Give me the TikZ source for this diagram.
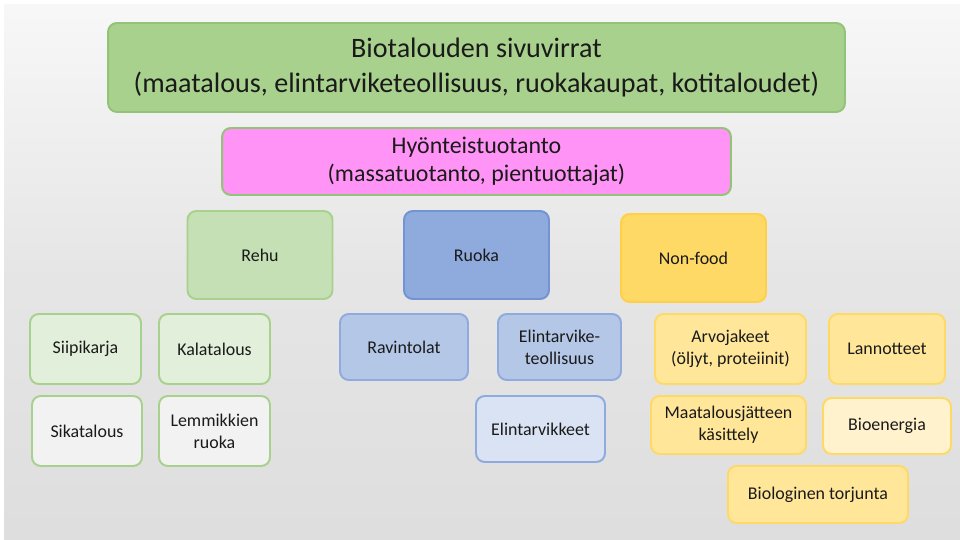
\documentclass[tikz,border=0pt]{standalone}
\usepackage{fontspec}
\setmainfont{Carlito}
\usepackage{tikz}
\usetikzlibrary{positioning,calc}

\definecolor{topfill}{HTML}{A9D18E}
\definecolor{topdraw}{HTML}{93C377}
\definecolor{pinkfill}{HTML}{FF94F6}
\definecolor{greenmid}{HTML}{C5E0B4}
\definecolor{greenlight}{HTML}{E2EFDA}
\definecolor{greenline}{HTML}{A9D18E}
\definecolor{greyfill}{HTML}{F2F2F2}
\definecolor{bluemid}{HTML}{8FAADC}
\definecolor{blueline}{HTML}{7393D3}
\definecolor{bluelight}{HTML}{B4C7E7}
\definecolor{bluepale}{HTML}{DAE3F3}
\definecolor{goldmid}{HTML}{FFD966}
\definecolor{goldline}{HTML}{FFD045}
\definecolor{goldlight}{HTML}{FFE699}
\definecolor{goldpale}{HTML}{FFF2CC}
\definecolor{ink}{HTML}{1A1A1A}

\begin{document}
\begin{tikzpicture}[x=0.02cm, y=-0.02cm,
  font=\fontsize{10.2}{12.5}\selectfont, text=ink,
  box/.style={rounded corners=5pt, line width=1.1pt, align=center,
              inner sep=2pt},
  head/.style={box, font=\fontsize{16}{19.8}\selectfont},
  sub/.style={box, font=\fontsize{13.6}{16}\selectfont},
  branch/.style={box, minimum width=2.9cm, minimum height=1.76cm},
  leaf/.style={box, minimum height=1.4cm},
  feed/.style={leaf, draw=greenline, minimum width=2.22cm},
  food/.style={leaf, draw=bluemid, minimum height=1.32cm},
  other/.style={leaf, draw=goldmid},
]

% ============ BACKGROUND: slide with grey gradient ============
\useasboundingbox (0,0) rectangle (960,540);
\fill[white] (0,0) rectangle (960,540);
\shade[top color=black!3, bottom color=black!13, middle color=black!10]
  (4,5) rectangle (960,540);

% ============ TOP: side streams and insect production ============
\node[head, fill=topfill, draw=topdraw, minimum width=14.74cm,
      minimum height=1.78cm] (streams) at (476.5,67.5)
  {Biotalouden sivuvirrat\\(maatalous, elintarviketeollisuus, ruokakaupat, kotitaloudet)};
\node[sub, fill=pinkfill, draw=topdraw, minimum width=10.18cm,
      minimum height=1.34cm] (insects) at (476.5,161.5)
  {Hyönteistuotanto\\(massatuotanto, pientuottajat)};

% ============ BRANCHES ============
\node[branch, fill=greenmid, draw=greenline] (rehu) at (260,255) {Rehu};
\node[branch, fill=bluemid, draw=blueline] (ruoka) at (476.5,255) {Ruoka};
\node[branch, fill=goldmid, draw=goldline] (nonfood) at (693.5,258) {Non-food};

% ============ FEED ============
\node[feed, fill=greenlight] (siipi) at (85.5,349) {Siipikarja};
\node[feed, fill=greenlight] (kala) at (214.5,349) {Kalatalous};
\node[feed, fill=greyfill, minimum width=2.2cm] (sika) at (87,431) {Sikatalous};
\node[feed, fill=greyfill] (lemmikki) at (214.5,431) {Lemmikkien\\ruoka};

% ============ FOOD ============
\node[food, fill=bluelight, minimum width=2.56cm] (ravintola) at (404,347) {Ravintolat};
\node[food, fill=bluelight, minimum width=2.46cm] (teoll) at (559.5,347)
  {Elintarvike-\\teollisuus};
\node[food, fill=bluepale, minimum width=2.58cm] (tarvike) at (540.5,429)
  {Elintarvikkeet};

% ============ NON-FOOD ============
\node[other, fill=goldlight, minimum width=3.02cm] (arvo) at (730.5,349)
  {Arvojakeet\\(öljyt, proteiinit)};
\node[other, fill=goldlight, minimum width=2.32cm] (lannote) at (887,349) {Lannotteet};
\node[other, fill=goldlight, minimum width=3.1cm, minimum height=1.16cm] (jate)
  at (728.5,425) {Maatalousjätteen\\käsittely};
\node[other, fill=goldpale, minimum width=2.56cm, minimum height=1.12cm] (bioen)
  at (887,426) {Bioenergia};
\node[other, fill=goldlight, minimum width=3.6cm, minimum height=1.14cm] (torjunta)
  at (818,494.5) {Biologinen torjunta};

\end{tikzpicture}
\end{document}
